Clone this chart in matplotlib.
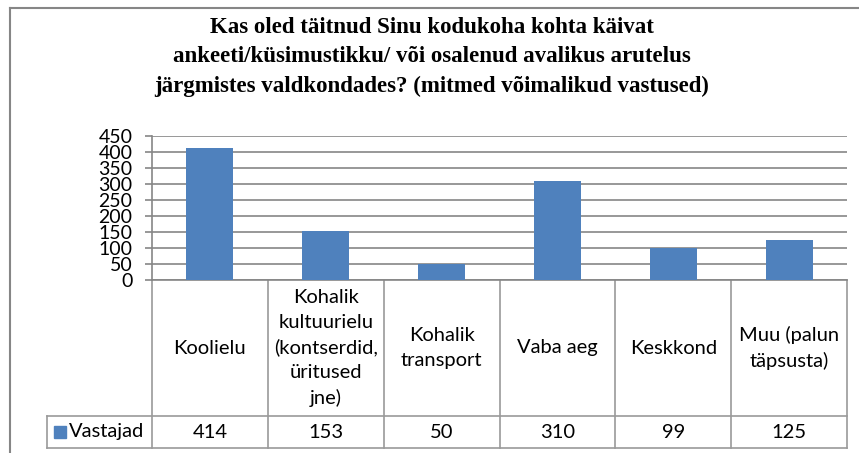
import matplotlib
matplotlib.use("Agg")
import matplotlib.pyplot as plt
from matplotlib.lines import Line2D

title = ("Kas oled täitnud Sinu kodukoha kohta käivat\n"
         "ankeeti/küsimustikku/ või osalenud avalikus arutelus\n"
         "järgmistes valdkondades? (mitmed võimalikud vastused)")
categories = ["Koolielu",
              "Kohalik\nkultuurielu\n(kontserdid,\nüritused\njne)",
              "Kohalik\ntransport",
              "Vaba aeg",
              "Keskkond",
              "Muu (palun\ntäpsusta)"]
series_name = "Vastajad"
values = [414, 153, 50, 310, 99, 125]
yticks = [0, 50, 100, 150, 200, 250, 300, 350, 400, 450]

BAR = "#4F81BD"
GRID = "#868686"
TXT = "#000000"
FONT = ["Lato", "DejaVu Sans"]
FS = 14.5

W, H = 859, 453
fig = plt.figure(figsize=(W / 100, H / 100), dpi=100)
fig.patch.set_facecolor("white")

# outer chart frame
fig.add_artist(Line2D([9.5 / W, 1.0], [1 - 8 / H, 1 - 8 / H], transform=fig.transFigure,
                      color=GRID, lw=1.5))
fig.add_artist(Line2D([9.5 / W, 9.5 / W], [0, 1 - 8 / H], transform=fig.transFigure,
                      color=GRID, lw=1.5))

fig.text(432 / W, 1 - 57 / H, title, ha="center", va="center", fontsize=16.5,
         fontweight="bold", family=["Liberation Serif", "DejaVu Serif"],
         linespacing=1.5, color=TXT)

ax = fig.add_axes([152 / W, 173 / H, 695 / W, 144 / H])
n = len(categories)
x = list(range(n))
ax.bar(x, values, width=0.405, color=BAR, zorder=3)
ax.set_xlim(-0.5, n - 0.5)
ax.set_ylim(0, 450)
ax.set_yticks(yticks)
ax.set_yticklabels([str(t) for t in yticks], fontsize=14, family=FONT, color=TXT)
ax.yaxis.grid(True, color=GRID, lw=1.2, zorder=0)
ax.set_axisbelow(True)
ax.tick_params(axis="y", length=5, width=1.2, color=GRID, pad=9)
ax.tick_params(axis="x", length=0, labelbottom=False)
for s in ["top", "right"]:
    ax.spines[s].set_visible(False)
for s in ["left", "bottom"]:
    ax.spines[s].set_color(GRID)
    ax.spines[s].set_linewidth(1.2)

# data table below the axis
tr = ax.get_xaxis_transform()
leg_left = -0.5 - (152 - 47) / (695 / n)
y_head = -(416 - 280) / 144
y_bot = -(448 - 280) / 144
TL = dict(transform=tr, clip_on=False, color="#9a9a9a", lw=1.2)
ax.plot([leg_left, n - 0.5], [y_head, y_head], **TL)
ax.plot([leg_left, n - 0.5], [y_bot, y_bot], **TL)
ax.plot([leg_left, leg_left], [y_head, y_bot], **TL)
for i in range(n + 1):
    ax.plot([i - 0.5, i - 0.5], [0, y_bot], **TL)

y_hc = y_head / 2
y_vc = (y_head + y_bot) / 2
for i, (c, v) in enumerate(zip(categories, values)):
    ax.text(i, y_hc, c, transform=tr, ha="center", va="center", fontsize=FS,
            family=FONT, color=TXT, linespacing=1.52)
    ax.text(i, y_vc, str(v), transform=tr, ha="center", va="center", fontsize=FS,
            family=FONT, color=TXT)

px = 695 / n
ax.plot([leg_left + 13 / px], [y_vc], marker="s", markersize=8, color=BAR,
        transform=tr, clip_on=False, linestyle="none")
ax.text(leg_left + 22 / px, y_vc, series_name, transform=tr, ha="left", va="center",
        fontsize=FS, family=FONT, color=TXT)

fig.savefig("out.png", dpi=100, facecolor="white")
